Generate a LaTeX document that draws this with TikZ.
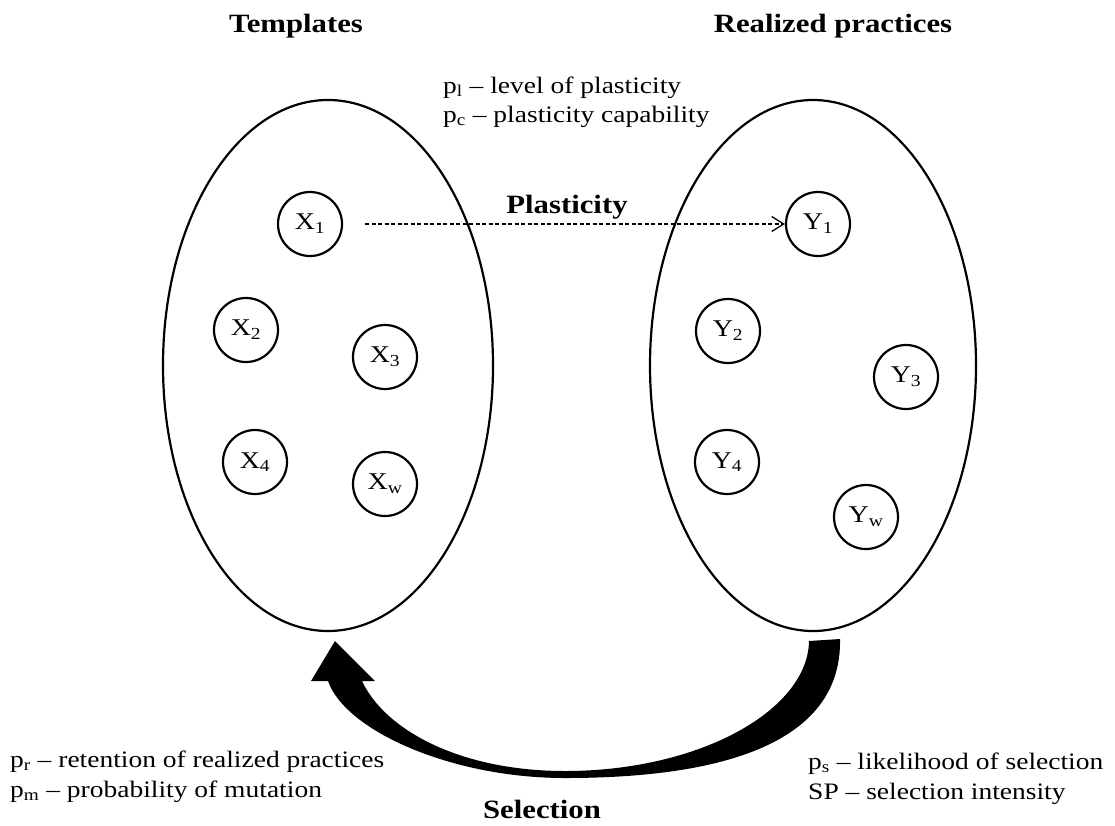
\documentclass[tikz,border=0pt]{standalone}
\usepackage{fontspec}
\setmainfont[FakeStretch=1.165]{Liberation Serif}
\usetikzlibrary{arrows.meta}
\begin{document}
\begin{tikzpicture}[x=1pt,y=-1pt,
  circ/.style={circle,draw,line width=2.2pt,minimum size=64pt,inner sep=0pt,font=\fontsize{24}{26}\selectfont},
  txt/.style={anchor=base west,inner sep=0pt,font=\fontsize{23.6}{26}\selectfont},
  ttl/.style={anchor=base,inner sep=0pt,font=\fontsize{26.4}{29}\selectfont\bfseries},
  oval/.style={line width=2.2pt},
  plastarrow/.style={line width=1.3pt,dash pattern=on 4pt off 2.5pt,-{Straight Barb[length=12pt,width=15pt,line width=1.3pt]}}]
\useasboundingbox (0,0) rectangle (1115,825);

% titles
\node[ttl] (tT) at (296,32) {Templates};
\node[ttl] (tR) at (833,32) {Realized practices};

% ellipses
\draw[oval] (328,365.5) ellipse [x radius=165pt, y radius=265.5pt];
\draw[oval] (813,365.5) ellipse [x radius=163pt, y radius=265.5pt];

% template circles
\node[circ] (X1) at (310,224) {X\textsubscript{1}};
\node[circ] (X2) at (246,330) {X\textsubscript{2}};
\node[circ] (X3) at (385,357) {X\textsubscript{3}};
\node[circ] (X4) at (255,462) {X\textsubscript{4}};
\node[circ] (Xw) at (385,484) {X\textsubscript{w}};

% realized circles
\node[circ] (Y1) at (818,224) {Y\textsubscript{1}};
\node[circ] (Y2) at (728,331) {Y\textsubscript{2}};
\node[circ] (Y3) at (906,377) {Y\textsubscript{3}};
\node[circ] (Y4) at (727,462) {Y\textsubscript{4}};
\node[circ] (Yw) at (866,517) {Y\textsubscript{w}};

% plasticity
\node[txt] (pl) at (443,93) {p\textsubscript{l} – level of plasticity};
\node[txt] (pc) at (443,122) {p\textsubscript{c} – plasticity capability};
\node[ttl] (plast) at (567,213) {Plasticity};
\draw[plastarrow] ([xshift=22pt]X1.east) -- (Y1.west);

% selection arrow
\fill (840,639)
  .. controls (842,735) and (740,778) .. (565,778)
  .. controls (450,778) and (345,730) .. (328,681)
  -- (311,681) -- (335,641) -- (375,681) -- (362,681)
  .. controls (385,730) and (460,771) .. (565,771)
  .. controls (700,771) and (808,710) .. (809,641) -- cycle;

% bottom texts
\node[txt] (pr) at (10,767) {p\textsubscript{r} – retention of realized practices};
\node[txt] (pm) at (10,797) {p\textsubscript{m} – probability of mutation};
\node[txt] (ps) at (808,769) {p\textsubscript{s} – likelihood of selection};
\node[txt] (sp) at (808,799) {SP – selection intensity};
\node[ttl] (sel) at (542,818) {Selection};
\end{tikzpicture}
\end{document}
